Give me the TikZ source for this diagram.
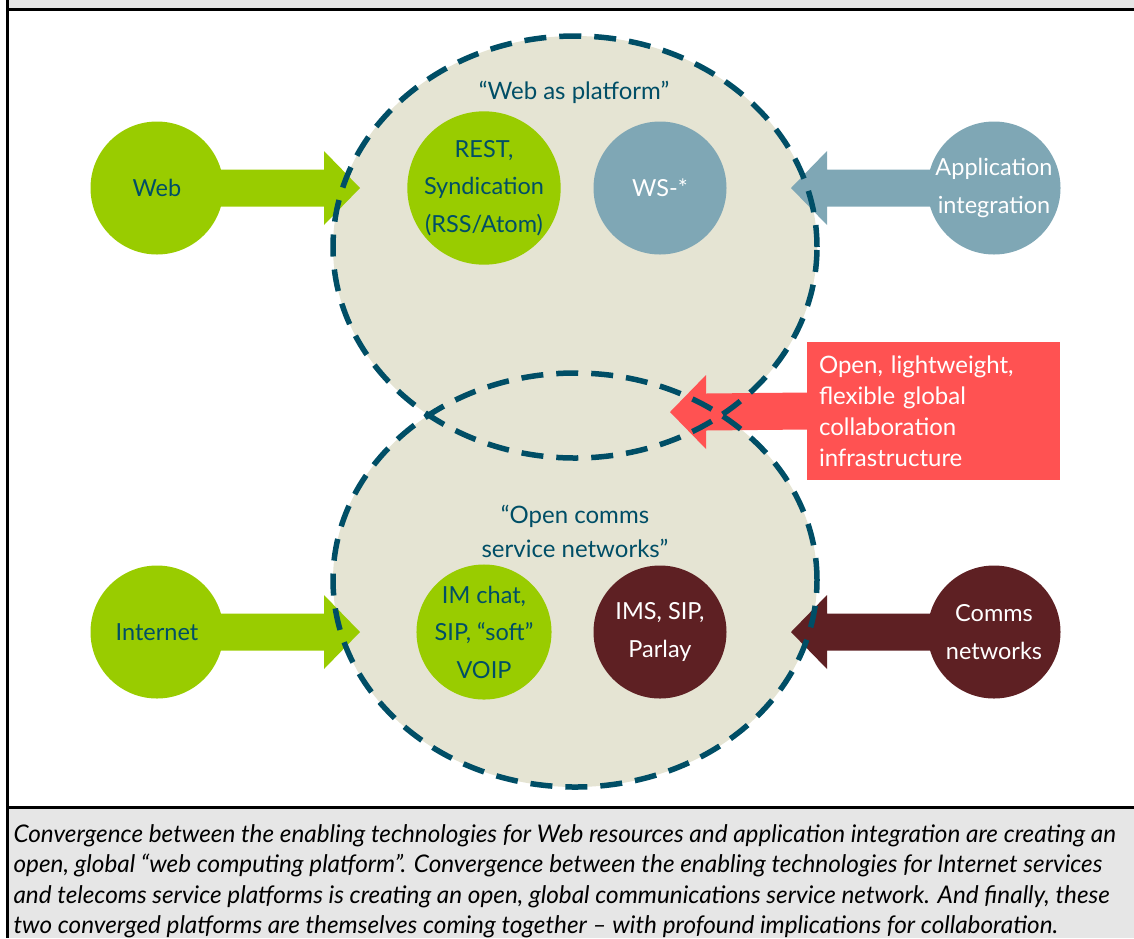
\documentclass[tikz,border=0pt]{standalone}
\usepackage{fontspec}
\setmainfont{Lato}
\usetikzlibrary{calc}
\pgfdeclarelayer{background}
\pgfsetlayers{background,main}

\definecolor{webgreen}{RGB}{153,204,0}
\definecolor{darkteal}{RGB}{0,78,102}
\definecolor{platfill}{RGB}{229,228,211}
\definecolor{appblue}{RGB}{127,167,181}
\definecolor{commsred}{RGB}{94,32,35}
\definecolor{collabred}{RGB}{255,82,82}
\definecolor{capgrey}{RGB}{230,230,230}

% fat arrow: colour, from node, tip coordinate, direction (1 right, -1 left)
\newcommand\fatarrow[4]{%
  \fill[#1] ($(#2)+(0,-18.5)$) -- ($(#3)+({-36*#4},-18.5)$) -- ($(#3)+({-36*#4},-37)$)
    -- (#3) -- ($(#3)+({-36*#4},37)$) -- ($(#3)+({-36*#4},18.5)$) -- ($(#2)+(0,18.5)$) -- cycle;}

\begin{document}
\begin{tikzpicture}[x=1pt,y=-1pt,
    tech/.style={circle,minimum size=133pt,inner sep=0pt,align=center,
      font=\fontsize{23.5}{37.5}\selectfont},
    greentech/.style={tech,fill=webgreen,text=darkteal},
    bluetech/.style={tech,fill=appblue,text=white},
    redtech/.style={tech,fill=commsred,text=white},
    platlabel/.style={align=center,text=darkteal,font=\fontsize{24}{34}\selectfont},
    platline/.style={draw=darkteal,line width=5.5pt,dash pattern=on 22pt off 13pt},
    frameline/.style={line width=3pt}]
  \useasboundingbox (0,0) rectangle (1134,938);

  % frame and caption band
  \fill[capgrey] (7,0) rectangle (1134,9);
  \fill[capgrey] (7,807) rectangle (1134,938);
  \draw[frameline] (7,0) -- (7,938);
  \draw[frameline] (7,9.5) -- (1134,9.5);
  \draw[frameline] (7,807) -- (1134,807);

  % technology circles
  \node[greentech] (web) at (157,188) {Web};
  \node[greentech] (rest) at (484,188) {REST,\\Syndication\\(RSS/Atom)};
  \node[bluetech] (wsstar) at (660,188) {WS-*};
  \node[bluetech] (appint) at (994,188) {Application\\integration};
  \node[greentech] (internet) at (157,632) {Internet};
  \node[greentech] (imchat) at (484,632) {IM chat,\\SIP, “soft”\\VOIP};
  \node[redtech] (ims) at (660,632) {IMS, SIP,\\Parlay};
  \node[redtech] (comms) at (994,632) {Comms\\networks};

  \node[platlabel] (webplat) at (574,92) {“Web as platform”};
  \node[platlabel] (openplat) at (575,531) {“Open comms\\service networks”};

  \node[fill=collabred,text=white,align=left,text width=229pt,minimum height=138pt,
    inner sep=12pt,font=\fontsize{24}{31}\selectfont] (collab) at (933.5,411)
    {Open, lightweight,\\flexible global\\collaboration\\infrastructure};

  \coordinate (webtip) at (360,188);
  \coordinate (apptip) at (791,188);
  \coordinate (nettip) at (360,632);
  \coordinate (commstip) at (791,632);
  \coordinate (collabtip) at (670,412);

  \begin{pgfonlayer}{background}
    \fill[platfill] (575,247) ellipse [x radius=242pt, y radius=211pt];
    \fill[platfill] (575,580) ellipse [x radius=242pt, y radius=207pt];
    \fatarrow{webgreen}{web.center}{webtip}{1}
    \fatarrow{appblue}{appint.center}{apptip}{-1}
    \fatarrow{webgreen}{internet.center}{nettip}{1}
    \fatarrow{commsred}{comms.center}{commstip}{-1}
    \fatarrow{collabred}{collab.west}{collabtip}{-1}
    \draw[platline] (575,247) ellipse [x radius=242pt, y radius=211pt];
    \draw[platline] (575,580) ellipse [x radius=242pt, y radius=207pt];
  \end{pgfonlayer}

  \node[anchor=west,align=left,font=\itshape\fontsize{24.3}{30.5}\selectfont] (caption) at (10,881)
    {Convergence between the enabling technologies for Web resources and application integration are creating an\\
     open, global “web computing platform”. Convergence between the enabling technologies for Internet services\\
     and telecoms service platforms is creating an open, global communications service network. And finally, these\\
     two converged platforms are themselves coming together -- with profound implications for collaboration.};
\end{tikzpicture}
\end{document}
